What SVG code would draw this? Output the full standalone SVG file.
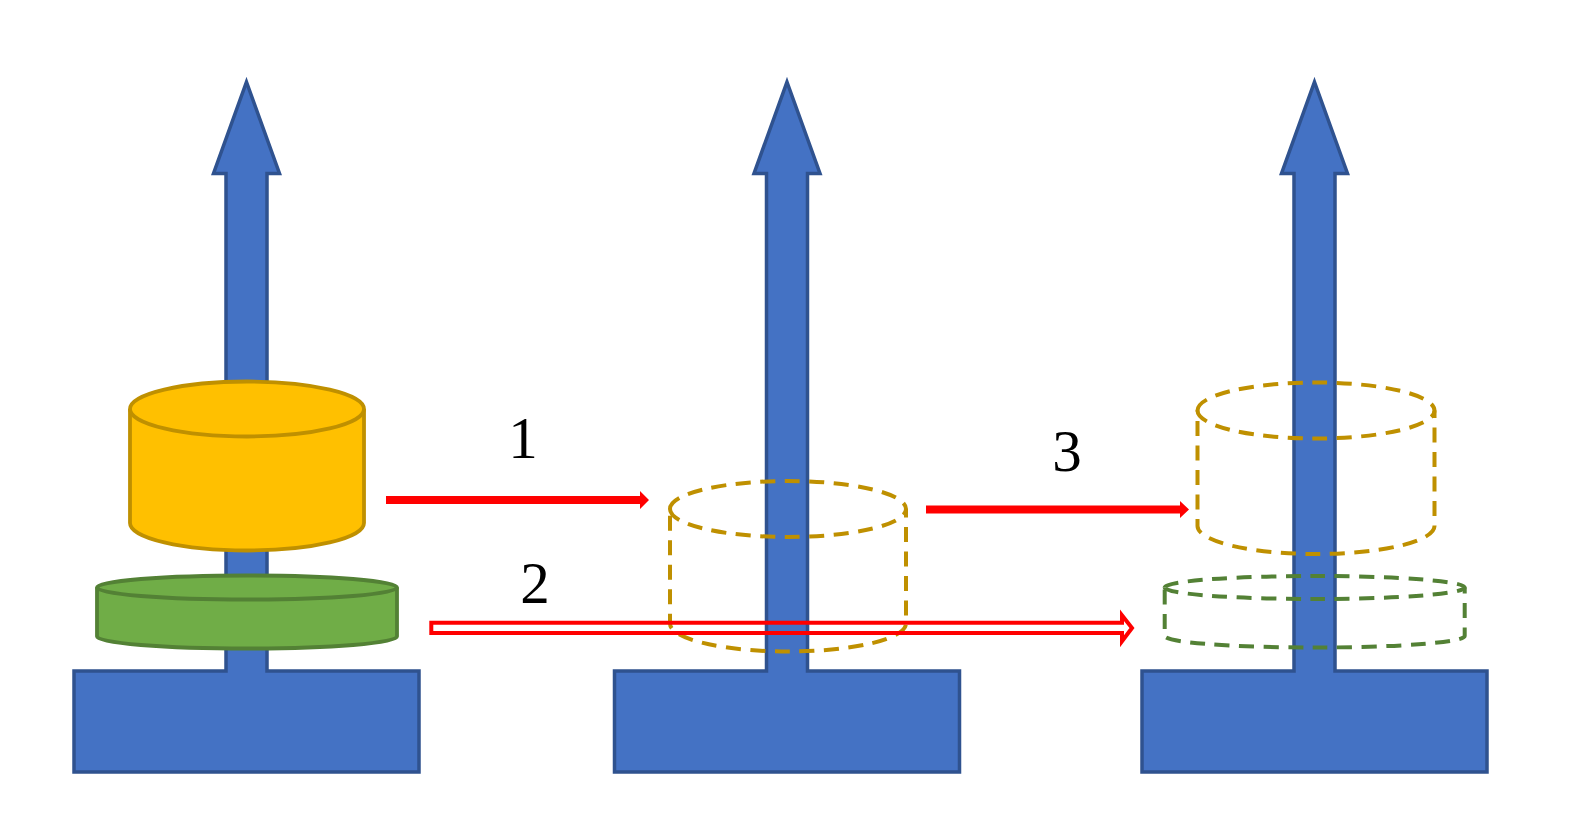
<svg xmlns="http://www.w3.org/2000/svg" xmlns:xlink="http://www.w3.org/1999/xlink" width="1582" height="839" viewBox="0 0 1582 839">
  <style>
    .pole { fill: #4472C4; stroke: #2F528F; stroke-width: 3.5; stroke-linejoin: miter; }
    .disk-y { fill: #FFC000; stroke: #BF9000; stroke-width: 3.8; }
    .disk-g { fill: #70AD47; stroke: #538135; stroke-width: 3.8; }
    .ghost-y { fill: none; stroke: #BF9000; stroke-width: 4; stroke-dasharray: 15 9.5; }
    .ghost-g { fill: none; stroke: #538135; stroke-width: 4; stroke-dasharray: 15 9.5; }
    .move { fill: #FF0000; stroke: none; }
    .move-hollow { fill: none; stroke: #FF0000; stroke-width: 4; stroke-linejoin: miter; stroke-miterlimit: 10; }
    .label { font-family: "Liberation Serif", "DejaVu Serif", serif; font-size: 59px; fill: #000000; text-anchor: middle; }
  </style>
  <defs>
    <path id="pole-shape" d="M0,82 L33,173.5 L20.5,173.5 L20.5,671 L172.5,671 L172.5,772 L-172.5,772 L-172.5,671 L-20.5,671 L-20.5,173.5 L-33,173.5 Z"/>
  </defs>
  <rect x="0" y="0" width="1582" height="839" fill="#FFFFFF"/>

  <g id="pole1"><use xlink:href="#pole-shape" href="#pole-shape" class="pole" x="246.5" y="0"/></g>
  <g id="pole2"><use xlink:href="#pole-shape" href="#pole-shape" class="pole" x="787" y="0"/></g>
  <g id="pole3"><use xlink:href="#pole-shape" href="#pole-shape" class="pole" x="1314.5" y="0"/></g>

  <g id="disk-small-start" class="disk-y">
    <path d="M130,409 A117,27.5 0 0 1 364,409 V523 A117,27.5 0 0 1 130,523 Z"/>
    <path d="M130,409 A117,27.5 0 0 0 364,409" fill="none"/>
  </g>
  <g id="disk-large-start" class="disk-g">
    <path d="M97,587.5 A150,12 0 0 1 397,587.5 V636.5 A150,12 0 0 1 97,636.5 Z"/>
    <path d="M97,587.5 A150,12 0 0 0 397,587.5" fill="none"/>
  </g>

  <g id="disk-small-temp" class="ghost-y">
    <path d="M670,509 A118,28 0 0 1 906,509 V623.5 A118,28 0 0 1 670,623.5 Z"/>
    <path d="M670,509 A118,28 0 0 0 906,509"/>
  </g>
  <g id="disk-small-end" class="ghost-y">
    <path d="M1197.5,410.5 A118.5,28 0 0 1 1434.5,410.5 V526 A118.5,28 0 0 1 1197.5,526 Z"/>
    <path d="M1197.5,410.5 A118.5,28 0 0 0 1434.5,410.5"/>
  </g>
  <g id="disk-large-end" class="ghost-g">
    <path d="M1164.7,587.5 A150,11.5 0 0 1 1464.7,587.5 V636 A150,11.5 0 0 1 1164.7,636 Z"/>
    <path d="M1164.7,587.5 A150,11.5 0 0 0 1464.7,587.5"/>
  </g>

  <g id="connectors">
    <polygon id="move1" class="move" points="386,496 640,496 640,491 649,500 640,509 640,504 386,504"/>
    <polygon id="move2" class="move-hollow" points="431.3,622.7 1122,622.7 1122,615.3 1132,628 1122,641.3 1122,633 431.3,633"/>
    <polygon id="move3" class="move" points="926,505.5 1180,505.5 1180,501 1189,509.5 1180,518 1180,513.5 926,513.5"/>
    <text class="label" x="523" y="458">1</text>
    <text class="label" x="535" y="603">2</text>
    <text class="label" x="1067" y="471">3</text>
  </g>
</svg>
